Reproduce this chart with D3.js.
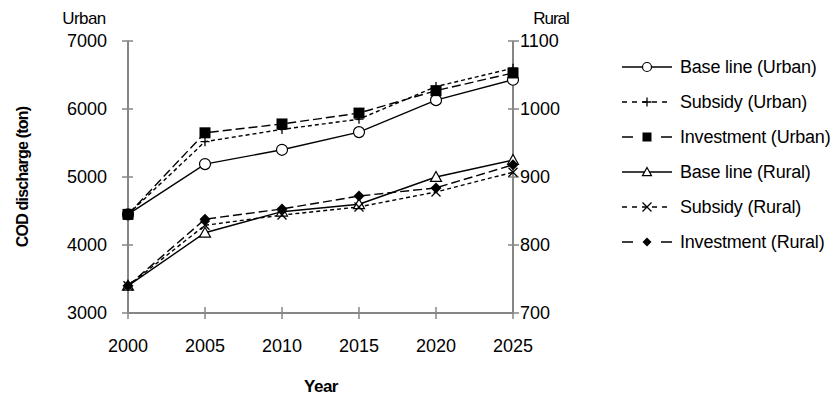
<!DOCTYPE html>
<html>
<head>
<meta charset="utf-8">
<script src="https://cdn.jsdelivr.net/npm/d3@7"></script>
<style>
  body { margin: 0; background: #fff; }
  svg text { font-family: "Liberation Sans", Arial, sans-serif; fill: #000; }
</style>
</head>
<body>
<div id="chart"></div>
<script>
// values
var years = [2000, 2005, 2010, 2015, 2020, 2025];
var baseUrban = [4450, 5190, 5400, 5660, 6130, 6430];
var subsidyUrban = [4450, 5520, 5700, 5850, 6330, 6600];
var investUrban = [4450, 5650, 5780, 5940, 6270, 6530];
var baseRural = [740, 818, 849, 860, 900, 925];
var subsidyRural = [740, 829, 844, 856, 878, 907];
var investRural = [740, 838, 853, 872, 884, 918];
var urbanTicks = [3000, 4000, 5000, 6000, 7000];
var ruralTicks = [700, 800, 900, 1000, 1100];
var seriesNames = ["Base line (Urban)", "Subsidy (Urban)", "Investment (Urban)",
  "Base line (Rural)", "Subsidy (Rural)", "Investment (Rural)"];

var width = 838, height = 396;
var plot = {left: 128, right: 513, top: 41, bottom: 313};
var axisColor = "#868686";

var x = d3.scaleLinear().domain([2000, 2025]).range([plot.left, plot.right]);
var yL = d3.scaleLinear().domain([3000, 7000]).range([plot.bottom, plot.top]);
var yR = d3.scaleLinear().domain([700, 1100]).range([plot.bottom, plot.top]);

/* one entry per series: values, axis, dashes (plot / legend) and marker kind */
var series = [
  {name: seriesNames[0], values: baseUrban, y: yL, dash: null, legDash: null, mark: "circle"},
  {name: seriesNames[1], values: subsidyUrban, y: yL, dash: "4,3", legDash: "5,5", mark: "plus"},
  {name: seriesNames[2], values: investUrban, y: yL, dash: "9,4", legDash: "11,28", mark: "square"},
  {name: seriesNames[3], values: baseRural, y: yR, dash: null, legDash: null, mark: "triangle"},
  {name: seriesNames[4], values: subsidyRural, y: yR, dash: "4,3", legDash: "5,5", mark: "cross"},
  {name: seriesNames[5], values: investRural, y: yR, dash: "9,4", legDash: "11,28", mark: "diamond"}
];

var svg = d3.select("#chart").append("svg")
    .attr("width", width)
    .attr("height", height);

/* draws a marker of the given kind centred on (cx, cy) */
function drawMarker(g, kind, cx, cy, s) {
  var h = s / 2;
  if (kind === "circle") {
    g.append("circle").attr("cx", cx).attr("cy", cy).attr("r", h)
        .attr("fill", "#fff").attr("stroke", "#000").attr("stroke-width", 1.2);
  } else if (kind === "square") {
    g.append("rect").attr("x", cx - h).attr("y", cy - h)
        .attr("width", s).attr("height", s).attr("fill", "#000");
  } else if (kind === "triangle") {
    g.append("path")
        .attr("d", "M" + cx + "," + (cy - h) + "L" + (cx + h) + "," + (cy + h * 0.8) +
          "L" + (cx - h) + "," + (cy + h * 0.8) + "Z")
        .attr("fill", "#fff").attr("stroke", "#000").attr("stroke-width", 1.2);
  } else if (kind === "diamond") {
    g.append("path")
        .attr("d", "M" + cx + "," + (cy - h) + "L" + (cx + h) + "," + cy +
          "L" + cx + "," + (cy + h) + "L" + (cx - h) + "," + cy + "Z")
        .attr("fill", "#000");
  } else if (kind === "plus") {
    g.append("path")
        .attr("d", "M" + (cx - h) + "," + cy + "H" + (cx + h) + "M" + cx + "," + (cy - h) + "V" + (cy + h))
        .attr("stroke", "#000").attr("stroke-width", 1.3);
  } else if (kind === "cross") {
    g.append("path")
        .attr("d", "M" + (cx - h) + "," + (cy - h) + "L" + (cx + h) + "," + (cy + h) +
          "M" + (cx - h) + "," + (cy + h) + "L" + (cx + h) + "," + (cy - h))
        .attr("stroke", "#000").attr("stroke-width", 1.3);
  }
}

/* axes: lines with ticks crossing them */
var axes = svg.append("g");
axes.append("line").attr("x1", plot.left).attr("x2", plot.left)
    .attr("y1", plot.top).attr("y2", plot.bottom)
    .attr("stroke", axisColor).attr("stroke-width", 2);
axes.append("line").attr("x1", plot.right).attr("x2", plot.right)
    .attr("y1", plot.top).attr("y2", plot.bottom)
    .attr("stroke", axisColor).attr("stroke-width", 2);
axes.append("line").attr("x1", plot.left).attr("x2", plot.right)
    .attr("y1", plot.bottom).attr("y2", plot.bottom)
    .attr("stroke", axisColor).attr("stroke-width", 2);

urbanTicks.forEach(function (t) {
  axes.append("line").attr("x1", plot.left - 6).attr("x2", plot.left + 5)
      .attr("y1", yL(t)).attr("y2", yL(t))
      .attr("stroke", axisColor).attr("stroke-width", 1.5);
  axes.append("text").attr("x", 107).attr("y", yL(t))
      .attr("dy", "0.36em").attr("text-anchor", "end")
      .attr("font-size", "18px").text(t);
});
ruralTicks.forEach(function (t) {
  axes.append("line").attr("x1", plot.right - 5).attr("x2", plot.right + 6)
      .attr("y1", yR(t)).attr("y2", yR(t))
      .attr("stroke", axisColor).attr("stroke-width", 1.5);
  axes.append("text").attr("x", 520).attr("y", yR(t))
      .attr("dy", "0.36em").attr("text-anchor", "start")
      .attr("font-size", "18px").text(t);
});
years.forEach(function (t) {
  axes.append("line").attr("x1", x(t)).attr("x2", x(t))
      .attr("y1", plot.bottom - 6).attr("y2", plot.bottom + 6)
      .attr("stroke", axisColor).attr("stroke-width", 1.5);
  axes.append("text").attr("x", x(t)).attr("y", 346)
      .attr("dy", "0.36em").attr("text-anchor", "middle")
      .attr("font-size", "18px").text(t);
});

/* titles */
svg.append("text").attr("x", 84).attr("y", 24).attr("text-anchor", "middle")
    .attr("font-size", "17px").attr("letter-spacing", "-0.6px").text("Urban");
svg.append("text").attr("x", 551).attr("y", 24).attr("text-anchor", "middle")
    .attr("font-size", "17px").attr("letter-spacing", "-1px").text("Rural");
svg.append("text").attr("x", 321).attr("y", 392).attr("text-anchor", "middle")
    .attr("font-size", "17px").attr("font-weight", "bold").attr("letter-spacing", "-0.5px").text("Year");
svg.append("text")
    .attr("transform", "translate(28,177) rotate(-90)")
    .attr("text-anchor", "middle")
    .attr("font-size", "16px").attr("font-weight", "bold").attr("letter-spacing", "-0.8px")
    .text("COD discharge  (ton)");

/* series lines and markers */
var line = function (s) {
  return d3.line()
      .x(function (d, i) { return x(years[i]); })
      .y(function (d) { return s.y(d); })(s.values);
};
var marks = svg.append("g");
series.forEach(function (s) {
  marks.append("path").attr("d", line(s))
      .attr("fill", "none").attr("stroke", "#000").attr("stroke-width", 1.4)
      .attr("stroke-dasharray", s.dash);
});
series.forEach(function (s) {
  var size = (s.mark === "plus" || s.mark === "cross") ? 9 : 11;
  s.values.forEach(function (v, i) {
    drawMarker(marks, s.mark, x(years[i]), s.y(v), size);
  });
});

/* legend */
var legend = svg.append("g");
series.forEach(function (s, i) {
  var ly = 67 + i * 35;
  legend.append("line").attr("x1", 622).attr("x2", 672).attr("y1", ly).attr("y2", ly)
      .attr("stroke", "#000").attr("stroke-width", 1.4)
      .attr("stroke-dasharray", s.legDash);
  drawMarker(legend, s.mark, 647, ly, 9);
  legend.append("text").attr("x", 680).attr("y", ly).attr("dy", "0.36em")
      .attr("font-size", "18px").attr("letter-spacing", "-0.2px").text(s.name);
});
</script>
</body>
</html>
